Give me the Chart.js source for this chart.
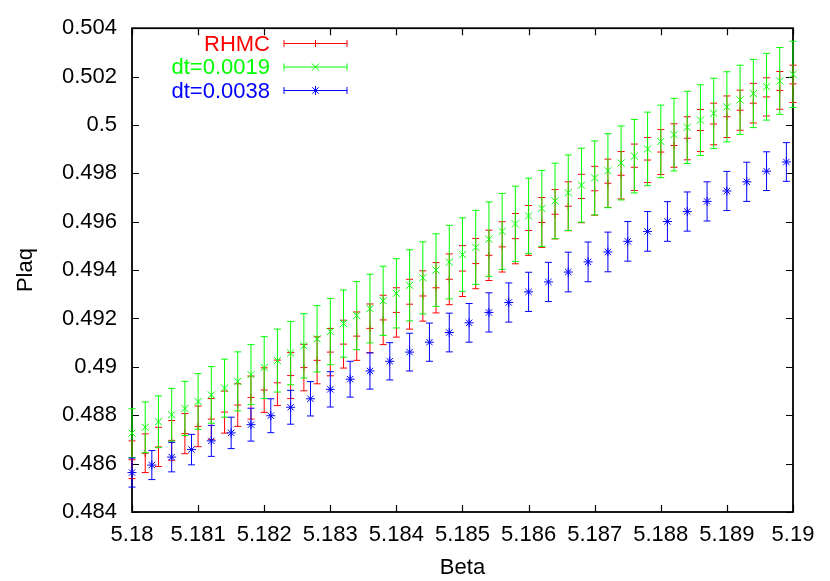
<!DOCTYPE html>
<html>
<head>
<meta charset="utf-8">
<title>Plaq vs Beta</title>
<script src="https://cdn.jsdelivr.net/npm/chart.js@4.4.0/dist/chart.umd.min.js"></script>
<style>
  html, body { margin: 0; padding: 0; background: #fff; }
  #plaqChart { display: block; }
</style>
</head>
<body>
<canvas id="plaqChart" width="830" height="581"></canvas>
<script>
// beta grid shared by RHMC and dt=0.0019
const betaFine = [
    5.1800, 5.1802, 5.1804, 5.1806, 5.1808, 5.1810, 5.1812, 5.1814, 5.1816, 5.1818,
    5.1820, 5.1822, 5.1824, 5.1826, 5.1828, 5.1830, 5.1832, 5.1834, 5.1836, 5.1838,
    5.1840, 5.1842, 5.1844, 5.1846, 5.1848, 5.1850, 5.1852, 5.1854, 5.1856, 5.1858,
    5.1860, 5.1862, 5.1864, 5.1866, 5.1868, 5.1870, 5.1872, 5.1874, 5.1876, 5.1878,
    5.1880, 5.1882, 5.1884, 5.1886, 5.1888, 5.1890, 5.1892, 5.1894, 5.1896, 5.1898,
    5.1900
];
const plaqRHMC = [
    0.48616, 0.48643, 0.48669, 0.48696, 0.48724, 0.48754, 0.48784, 0.48813, 0.48842, 0.48873,
    0.48904, 0.48934, 0.48964, 0.48997, 0.49027, 0.49061, 0.49094, 0.49127, 0.49159, 0.49194,
    0.49225, 0.49259, 0.49293, 0.49327, 0.49362, 0.49396, 0.49427, 0.49461, 0.49496, 0.49530,
    0.49564, 0.49597, 0.49631, 0.49664, 0.49696, 0.49728, 0.49759, 0.49792, 0.49825, 0.49855,
    0.49888, 0.49915, 0.49945, 0.49977, 0.50004, 0.50034, 0.50061, 0.50090, 0.50116, 0.50143,
    0.50170
];
const errRHMC = [
    0.00078, 0.00080, 0.00081, 0.00082, 0.00083, 0.00084, 0.00085, 0.00087, 0.00088, 0.00089,
    0.00092, 0.00094, 0.00095, 0.00096, 0.00097, 0.00098, 0.00099, 0.00100, 0.00101, 0.00102,
    0.00102, 0.00103, 0.00104, 0.00104, 0.00105, 0.00105, 0.00104, 0.00104, 0.00104, 0.00104,
    0.00103, 0.00103, 0.00102, 0.00101, 0.00100, 0.00101, 0.00100, 0.00098, 0.00096, 0.00093,
    0.00093, 0.00090, 0.00089, 0.00087, 0.00086, 0.00086, 0.00083, 0.00082, 0.00079, 0.00078,
    0.00077
];
const plaqDt0019 = [
    0.48726, 0.48750, 0.48773, 0.48802, 0.48828, 0.48857, 0.48884, 0.48912, 0.48940, 0.48968,
    0.48997, 0.49026, 0.49057, 0.49087, 0.49116, 0.49146, 0.49179, 0.49212, 0.49241, 0.49273,
    0.49304, 0.49337, 0.49368, 0.49400, 0.49433, 0.49464, 0.49494, 0.49528, 0.49560, 0.49591,
    0.49624, 0.49655, 0.49686, 0.49720, 0.49751, 0.49781, 0.49811, 0.49843, 0.49871, 0.49901,
    0.49932, 0.49960, 0.49990, 0.50020, 0.50048, 0.50075, 0.50104, 0.50130, 0.50158, 0.50182,
    0.50209
];
const errDt0019 = [
    0.00101, 0.00105, 0.00107, 0.00109, 0.00112, 0.00115, 0.00117, 0.00120, 0.00122, 0.00124,
    0.00128, 0.00130, 0.00131, 0.00133, 0.00137, 0.00137, 0.00139, 0.00141, 0.00142, 0.00143,
    0.00143, 0.00147, 0.00149, 0.00150, 0.00152, 0.00152, 0.00153, 0.00154, 0.00157, 0.00156,
    0.00156, 0.00157, 0.00156, 0.00156, 0.00153, 0.00153, 0.00153, 0.00153, 0.00152, 0.00152,
    0.00150, 0.00150, 0.00149, 0.00146, 0.00145, 0.00145, 0.00143, 0.00141, 0.00138, 0.00138,
    0.00137
];

// beta grid of dt=0.0038
const betaCoarse = [
    5.1800, 5.1803, 5.1806, 5.1809, 5.1812, 5.1815, 5.1818, 5.1821, 5.1824, 5.1827,
    5.1830, 5.1833, 5.1836, 5.1839, 5.1842, 5.1845, 5.1848, 5.1851, 5.1854, 5.1857,
    5.1860, 5.1863, 5.1866, 5.1869, 5.1872, 5.1875, 5.1878, 5.1881, 5.1884, 5.1887,
    5.1890, 5.1893, 5.1896, 5.1899
];
const plaqDt0038 = [
    0.48563, 0.48594, 0.48627, 0.48658, 0.48694, 0.48727, 0.48761, 0.48798, 0.48833, 0.48868,
    0.48907, 0.48949, 0.48983, 0.49023, 0.49061, 0.49102, 0.49142, 0.49182, 0.49225, 0.49266,
    0.49310, 0.49351, 0.49392, 0.49434, 0.49475, 0.49519, 0.49560, 0.49601, 0.49642, 0.49684,
    0.49727, 0.49765, 0.49809, 0.49847
];
const errDt0038 = [
    0.00060, 0.00060, 0.00061, 0.00063, 0.00064, 0.00065, 0.00068, 0.00070, 0.00070, 0.00071,
    0.00073, 0.00074, 0.00075, 0.00077, 0.00078, 0.00079, 0.00080, 0.00080, 0.00081, 0.00081,
    0.00081, 0.00081, 0.00082, 0.00082, 0.00082, 0.00082, 0.00082, 0.00082, 0.00081, 0.00081,
    0.00081, 0.00081, 0.00080, 0.00080
];

// series names and tick labels
const seriesNames = ['RHMC', 'dt=0.0019', 'dt=0.0038'];
const xTickValues = [5.180, 5.181, 5.182, 5.183, 5.184, 5.185, 5.186, 5.187, 5.188, 5.189, 5.190];
const yTickValues = [0.484, 0.486, 0.488, 0.490, 0.492, 0.494, 0.496, 0.498, 0.500, 0.502, 0.504];

const FONT = '"Liberation Sans", Arial, Helvetica, sans-serif';
const CAP = 3.5;      // half width of error bar caps
const TICK_LEN = 7;   // inward tick length

function toPoints(xs, ys) {
    return xs.map((x, i) => ({ x: x, y: ys[i] }));
}

function fmt(v) {
    return String(parseFloat(v.toFixed(3)));
}

// frame and inward ticks (gnuplot style), drawn under the data
const framePlugin = {
    id: 'frame',
    beforeDatasetsDraw(chart) {
        const { ctx, chartArea: a, scales: { x, y } } = chart;
        ctx.save();
        ctx.strokeStyle = '#000';
        ctx.lineWidth = 1.2;
        ctx.beginPath();
        x.ticks.forEach(t => {
            const px = Math.round(x.getPixelForValue(t.value)) + 0.5;
            ctx.moveTo(px, a.bottom); ctx.lineTo(px, a.bottom - TICK_LEN);
            ctx.moveTo(px, a.top); ctx.lineTo(px, a.top + TICK_LEN);
        });
        y.ticks.forEach(t => {
            const py = Math.round(y.getPixelForValue(t.value)) + 0.5;
            ctx.moveTo(a.left, py); ctx.lineTo(a.left + TICK_LEN, py);
            ctx.moveTo(a.right, py); ctx.lineTo(a.right - TICK_LEN, py);
        });
        ctx.stroke();
        ctx.lineWidth = 1.8;
        ctx.strokeRect(a.left, a.top, a.right - a.left, a.bottom - a.top);
        ctx.restore();
    }
};

// vertical error bars with caps, drawn right before each dataset's markers
const errorBarPlugin = {
    id: 'errorBars',
    beforeDatasetDraw(chart, args) {
        const ds = chart.data.datasets[args.index];
        if (!ds.errors) return;
        const { ctx, scales: { x, y } } = chart;
        ctx.save();
        ctx.strokeStyle = ds.borderColor;
        ctx.lineWidth = 1;
        ctx.beginPath();
        ds.data.forEach((p, i) => {
            const px = x.getPixelForValue(p.x);
            const top = y.getPixelForValue(p.y + ds.errors[i]);
            const bot = y.getPixelForValue(p.y - ds.errors[i]);
            ctx.moveTo(px, top); ctx.lineTo(px, bot);
            ctx.moveTo(px - CAP, top); ctx.lineTo(px + CAP, top);
            ctx.moveTo(px - CAP, bot); ctx.lineTo(px + CAP, bot);
        });
        ctx.stroke();
        ctx.restore();
    }
};

// key in the top left corner: text then a sample error bar
const keyPlugin = {
    id: 'gnuKey',
    afterDatasetsDraw(chart) {
        const { ctx } = chart;
        const textRight = 270, x0 = 284, x1 = 347, rowTop = 43.5, rowStep = 23.5;
        ctx.save();
        ctx.font = '22px ' + FONT;
        ctx.textAlign = 'right';
        ctx.textBaseline = 'middle';
        chart.data.datasets.forEach((ds, i) => {
            const yy = rowTop + i * rowStep;
            ctx.fillStyle = ds.borderColor;
            ctx.fillText(ds.label, textRight, yy + 1);
            ctx.strokeStyle = ds.borderColor;
            ctx.lineWidth = 1;
            ctx.beginPath();
            ctx.moveTo(x0, yy); ctx.lineTo(x1, yy);
            ctx.moveTo(x0, yy - CAP); ctx.lineTo(x0, yy + CAP);
            ctx.moveTo(x1, yy - CAP); ctx.lineTo(x1, yy + CAP);
            ctx.stroke();
            Chart.helpers.drawPoint(ctx, {
                pointStyle: ds.pointStyle,
                radius: ds.pointRadius,
                rotation: 0,
                borderWidth: 1
            }, (x0 + x1) / 2, yy);
        });
        ctx.restore();
    }
};

function initPlaqChart() {
    const canvas = document.getElementById('plaqChart');

    new Chart(canvas, {
        type: 'scatter',
        data: {
            datasets: [
                {
                    label: seriesNames[0],
                    data: toPoints(betaFine, plaqRHMC),
                    errors: errRHMC,
                    borderColor: '#ff0000',
                    backgroundColor: '#ff0000',
                    pointStyle: 'cross',
                    pointRadius: 3.5,
                    order: 3
                },
                {
                    label: seriesNames[1],
                    data: toPoints(betaFine, plaqDt0019),
                    errors: errDt0019,
                    borderColor: '#00ff00',
                    backgroundColor: '#00ff00',
                    pointStyle: 'crossRot',
                    pointRadius: 5,
                    order: 2
                },
                {
                    label: seriesNames[2],
                    data: toPoints(betaCoarse, plaqDt0038),
                    errors: errDt0038,
                    borderColor: '#0000ff',
                    backgroundColor: '#0000ff',
                    pointStyle: 'star',
                    pointRadius: 4.5,
                    order: 1
                }
            ]
        },
        options: {
            responsive: false,
            animation: false,
            devicePixelRatio: 1,
            clip: false,
            layout: { padding: { top: 25, right: 37, left: 0, bottom: 0 } },
            elements: { point: { borderWidth: 1, hoverRadius: 4 } },
            plugins: {
                legend: { display: false },
                tooltip: { enabled: false }
            },
            scales: {
                x: {
                    type: 'linear',
                    min: 5.18,
                    max: 5.19,
                    afterBuildTicks: s => { s.ticks = xTickValues.map(v => ({ value: v })); },
                    afterFit: s => { s.height = 69; },
                    grid: { display: false, drawTicks: false },
                    border: { display: false },
                    ticks: {
                        color: '#000',
                        padding: 10,
                        maxRotation: 0,
                        autoSkip: false,
                        font: { family: FONT, size: 22 },
                        callback: v => fmt(v)
                    },
                    title: {
                        display: true,
                        text: 'Beta',
                        color: '#000',
                        padding: { top: 0, bottom: 0 },
                        font: { family: FONT, size: 22 }
                    }
                },
                y: {
                    type: 'linear',
                    min: 0.484,
                    max: 0.504,
                    afterBuildTicks: s => { s.ticks = yTickValues.map(v => ({ value: v })); },
                    afterFit: s => { s.width = 132; },
                    grid: { display: false, drawTicks: false },
                    border: { display: false },
                    ticks: {
                        color: '#000',
                        padding: 15,
                        autoSkip: false,
                        font: { family: FONT, size: 22 },
                        callback: v => fmt(v)
                    },
                    title: {
                        display: true,
                        text: 'Plaq',
                        color: '#000',
                        padding: { top: 13, bottom: 0 },
                        font: { family: FONT, size: 22 }
                    }
                }
            }
        },
        plugins: [framePlugin, errorBarPlugin, keyPlugin]
    });
}

document.addEventListener('DOMContentLoaded', initPlaqChart);
</script>
</body>
</html>
